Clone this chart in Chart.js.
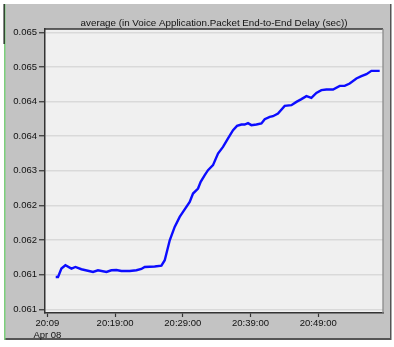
<!DOCTYPE html>
<html>
<head>
<meta charset="utf-8">
<script src="https://cdn.jsdelivr.net/npm/chart.js@4/dist/chart.umd.min.js"></script>
<style>
  html, body { margin: 0; padding: 0; background: #ffffff; }
  canvas { display: block; }
</style>
</head>
<body>
<canvas id="c" width="394" height="347"></canvas>
<script>
// Sample times, in minutes after 20:09 on Apr 08
const minutes = [1.23,1.57,2.07,2.66,3.55,4.14,5.02,6.74,7.47,8.72,9.45,10.19,10.93,12.16,13.15,13.88,14.37,15.85,16.84,17.33,18.07,18.80,19.54,20.03,21.02,21.51,22.25,22.64,23.24,23.72,24.46,25.20,25.94,26.68,27.42,28.01,28.66,29.14,29.63,30.13,30.87,31.61,32.10,32.84,33.32,34.06,35.05,36.04,36.78,37.52,38.26,38.99,39.73,40.47,41.21,42.19,43.18,43.91,44.65,45.64,46.38,47.12,47.86,48.35,49.08];

// Average packet end-to-end delay (sec)
const delay = [0.061375,0.061375,0.061503,0.061554,0.061503,0.061528,0.061493,0.061451,0.061477,0.061451,0.061477,0.061482,0.061467,0.061467,0.061477,0.061497,0.061528,0.061534,0.061549,0.061631,0.061937,0.062141,0.062294,0.062370,0.062524,0.062652,0.062729,0.062830,0.062933,0.063009,0.063086,0.063265,0.063366,0.063495,0.063622,0.063688,0.063709,0.063709,0.063729,0.063699,0.063709,0.063725,0.063790,0.063826,0.063836,0.063878,0.063994,0.064005,0.064055,0.064097,0.064143,0.064117,0.064193,0.064235,0.064245,0.064245,0.064301,0.064301,0.064337,0.064414,0.064449,0.064480,0.064530,0.064530,0.064530];

// Axis ticks
const xTicks = [0, 10, 20, 30, 40];
const xTickLabels = [['20:09', 'Apr 08'], '20:19:00', '20:29:00', '20:39:00', '20:49:00'];
const yTicks = [0.06088, 0.06141, 0.06194, 0.06247, 0.06300, 0.06353, 0.06406, 0.06459, 0.06512];

const chartTitle = 'average (in Voice Application.Packet End-to-End Delay (sec))';
const FONT = '"Liberation Sans", Arial, sans-serif';

const frame = {
  id: 'frame',
  beforeDraw(chart) {
    const ctx = chart.ctx;
    const a = chart.chartArea;
    ctx.save();
    ctx.fillStyle = '#ffffff';
    ctx.fillRect(0, 0, 394, 347);
    // grey panel
    ctx.fillStyle = '#c3c3c3';
    ctx.fillRect(5, 4, 386, 335);
    ctx.fillStyle = '#555555';
    ctx.fillRect(5, 338, 386, 2);
    ctx.fillRect(390, 4, 1.5, 336);
    ctx.fillStyle = '#7ccf7c';
    ctx.fillRect(4, 4, 1.5, 336);
    ctx.fillStyle = '#111111';
    ctx.fillRect(3.5, 4, 1.2, 40);
    // plot background
    ctx.fillStyle = '#f0f0f0';
    ctx.fillRect(a.left, a.top, a.right - a.left, a.bottom - a.top);
    // title
    ctx.fillStyle = '#111111';
    ctx.font = '9.8px ' + FONT;
    ctx.textAlign = 'center';
    ctx.textBaseline = 'middle';
    ctx.fillText(chartTitle, (a.left + a.right) / 2, 23);
    ctx.restore();
  },
  afterDraw(chart) {
    const ctx = chart.ctx;
    const a = chart.chartArea;
    ctx.save();
    ctx.strokeStyle = '#333333';
    ctx.lineWidth = 1.3;
    ctx.beginPath();
    ctx.moveTo(a.left, a.top);
    ctx.lineTo(a.right, a.top);
    ctx.stroke();
    ctx.strokeStyle = '#8a8a8a';
    ctx.beginPath();
    ctx.moveTo(a.right, a.top);
    ctx.lineTo(a.right, a.bottom);
    ctx.stroke();
    ctx.restore();
  }
};

new Chart(document.getElementById('c'), {
  type: 'line',
  data: {
    datasets: [{
      data: minutes.map((m, i) => ({ x: m, y: delay[i] })),
      borderColor: '#0c0cff',
      borderWidth: 2.4,
      pointRadius: 0,
      tension: 0,
      fill: false
    }]
  },
  options: {
    responsive: false,
    devicePixelRatio: 1,
    animation: false,
    layout: { padding: { left: 5, right: 11, top: 29, bottom: 0 } },
    plugins: { legend: { display: false }, tooltip: { enabled: false }, title: { display: false } },
    scales: {
      x: {
        type: 'linear',
        min: -0.355,
        max: 49.57,
        afterBuildTicks(scale) { scale.ticks = xTicks.map(v => ({ value: v })); },
        afterFit(scale) { scale.height = 34; },
        grid: { display: true, drawOnChartArea: false, drawTicks: true, tickLength: 4, tickColor: '#333333', tickWidth: 1.2 },
        border: { display: true, color: '#333333', width: 1.5 },
        ticks: {
          color: '#111111',
          font: { family: FONT, size: 9.5 },
          padding: 1,
          maxRotation: 0,
          autoSkip: false,
          callback(value) {
            const i = xTicks.indexOf(value);
            return i >= 0 ? xTickLabels[i] : '';
          }
        }
      },
      y: {
        type: 'linear',
        min: 0.060823,
        max: 0.065171,
        afterBuildTicks(scale) { scale.ticks = yTicks.map(v => ({ value: v })); },
        afterFit(scale) { scale.width = 40; },
        grid: { color: '#d9d9d9', lineWidth: 1.5, drawTicks: true, tickLength: 6, tickColor: '#333333', tickWidth: 1.2 },
        border: { display: true, color: '#333333', width: 1.5 },
        ticks: {
          color: '#111111',
          font: { family: FONT, size: 9.5 },
          padding: 2,
          autoSkip: false,
          callback(value) { return value.toFixed(3); }
        }
      }
    }
  },
  plugins: [frame]
});
</script>
</body>
</html>
